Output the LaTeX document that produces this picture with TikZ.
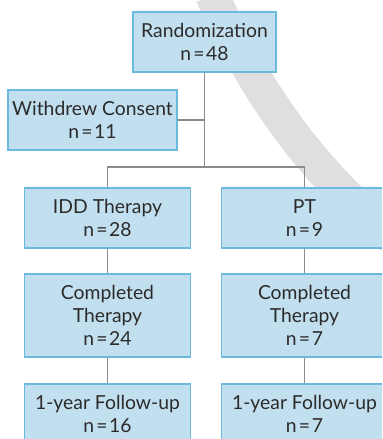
\documentclass[tikz,border=0pt]{standalone}
\usepackage{fontspec}
\setmainfont{Lato}
\usetikzlibrary{positioning}
\definecolor{boxfill}{HTML}{C2DFEF}
\definecolor{boxline}{HTML}{6CB9DE}
\definecolor{linkgray}{HTML}{8A8A8A}
\definecolor{textgray}{HTML}{2B2B2B}
\newcommand{\nval}[1]{n\kern1.2pt=\kern1pt#1}
\begin{document}
\begin{tikzpicture}[x=0.02cm,y=-0.02cm,
 every node/.style={font=\fontsize{11}{13}\selectfont,text=textgray},
 box/.style={draw=boxline,fill=boxfill,line width=0.8pt,align=center,minimum width=3.32cm,minimum height=1.2cm,inner sep=0pt},
 link/.style={draw=linkgray,line width=0.7pt}]
% page is 382 x 439 (one unit = one pixel)
\clip (0,0) rectangle (382,439);
% grey band in the background
\draw[gray!25,line width=0.68cm] (212,-5) .. controls (250,80) and (300,160) .. (392,238);
% top of the chart
\node[box,minimum width=2.86cm] (rand) at (204.5,42) {Randomization\\\nval{48}};
\node[box,minimum width=3.38cm] (wd) at (92.5,120) {Withdrew Consent\\\nval{11}};
% two arms
\node[box] (idd) at (107.5,218) {IDD Therapy\\\nval{28}};
\node[box] (pt) at (304.5,218) {PT\\\nval{9}};
\node[box,minimum height=1.66cm] (compL) at (107.5,315.5) {Completed\\Therapy\\\nval{24}};
\node[box,minimum height=1.66cm] (compR) at (304.5,315.5) {Completed\\Therapy\\\nval{7}};
\node[box] (fuL) at (107.5,414) {1-year Follow-up\\\nval{16}};
\node[box] (fuR) at (304.5,414) {1-year Follow-up\\\nval{7}};
% connectors
\coordinate (split) at (204.5,167);
\draw[link] (rand.south) -- (split);
\draw[link] (wd.east) -- (wd.east -| split);
\draw[link] (idd.north) |- (split) -| (pt.north);
\foreach \a/\b in {idd/compL,compL/fuL,pt/compR,compR/fuR}
 \draw[link] (\a) -- (\b);
\end{tikzpicture}
\end{document}
